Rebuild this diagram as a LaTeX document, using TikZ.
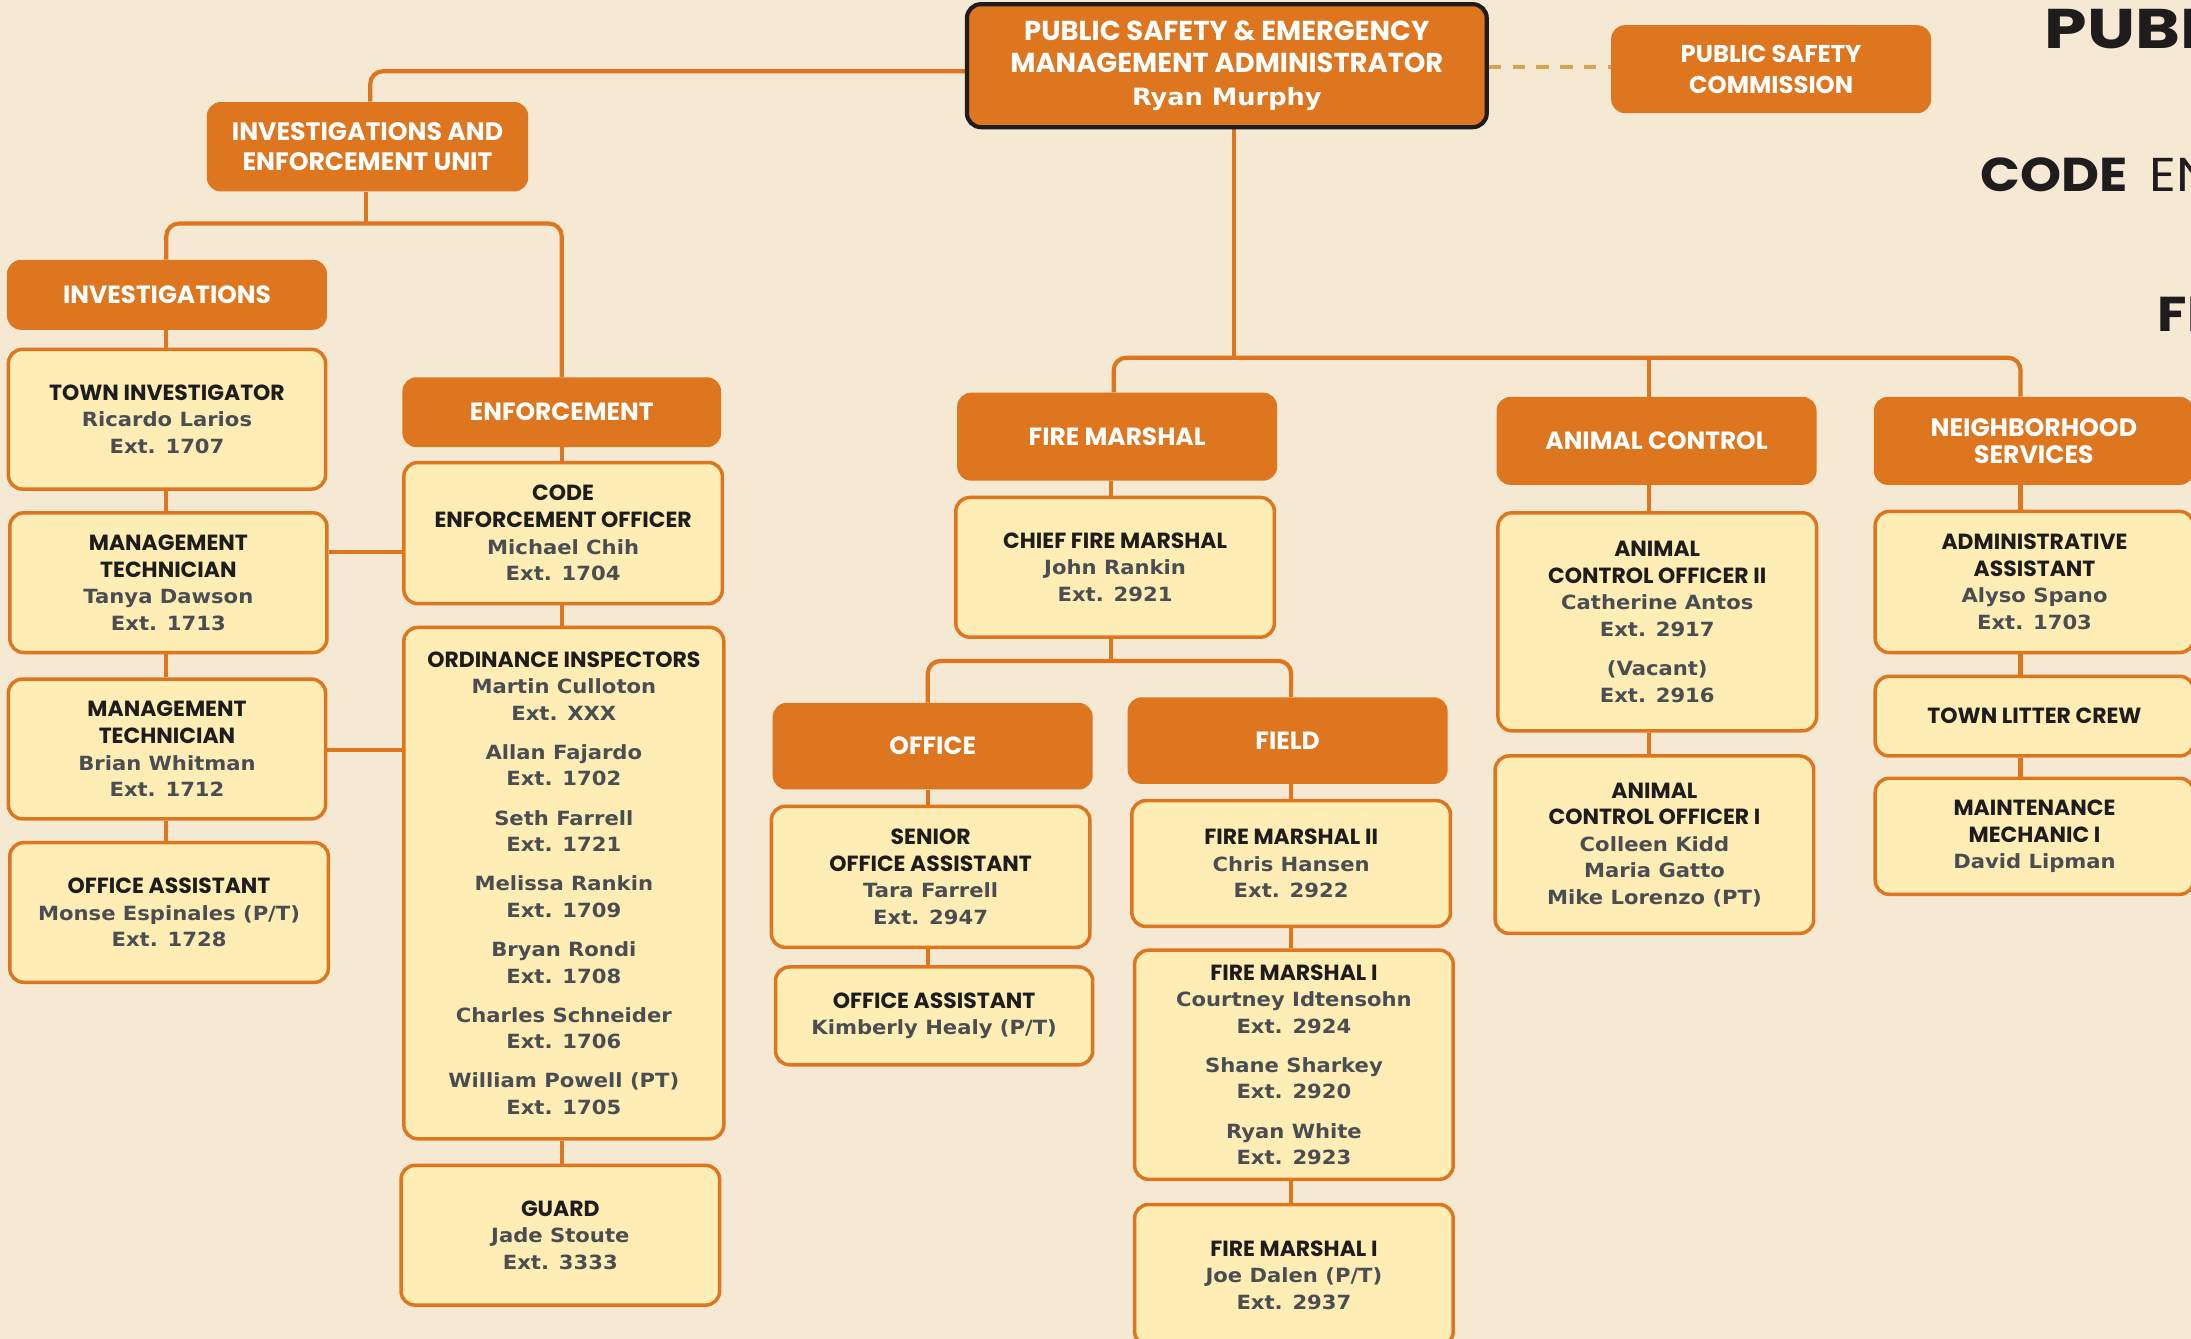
\documentclass[tikz,border=0pt]{standalone}
\usepackage{fontspec}
\usetikzlibrary{calc}
\newfontfamily\tfam{Poppins}
\newfontfamily\wfam{Poppins}[FakeStretch=1.1]
\newfontfamily\pfam{Poppins}[FakeStretch=1.22]
\newfontfamily\nfam{DejaVu Sans}[FakeStretch=1.08]
\definecolor{bgc}{HTML}{F5E9D3}
\definecolor{org}{HTML}{DE7620}
\definecolor{yel}{HTML}{FEEDB5}
\definecolor{ink}{HTML}{1E1C1C}
\definecolor{gry}{HTML}{4A4D52}
\definecolor{dash}{HTML}{D6A552}
\newcommand\rtitle{\tfam\bfseries\fontsize{15.7}{19}\selectfont\color{ink}}
\newcommand\rname{\nfam\bfseries\fontsize{14}{19}\selectfont\color{gry}}
\pgfdeclarelayer{back}
\pgfdeclarelayer{links}
\pgfsetlayers{back,links,main}
\tikzset{
  box/.style={rectangle, rounded corners=10pt, inner sep=0pt, align=center},
  hdr/.style={box, fill=org, text=white, font=\tfam\bfseries\fontsize{17.8}{20}\selectfont},
  staff/.style={box, fill=yel, draw=org, line width=2.5pt, font=\fontsize{14}{19}\selectfont},
  conn/.style={draw=org, line width=3pt},
}
\begin{document}
\begin{tikzpicture}[x=1pt,y=-1pt]
\begin{pgfonlayer}{back}
\fill[bgc] (0,0) rectangle (1568,958);
\end{pgfonlayer}
\useasboundingbox (0,0) rectangle (1568,958);

% titles at right
\node[anchor=base west, inner sep=0, text=ink, font=\pfam\bfseries\fontsize{40}{40}\selectfont] (t1) at (1463,35) {PUBL};
\node[anchor=base west, inner sep=0, text=ink, font=\wfam\fontsize{34}{34}\selectfont] (t2) at (1417,137) {\bfseries CODE\hspace{16pt}\mdseries EN};
\node[anchor=base west, inner sep=0, text=ink, font=\wfam\bfseries\fontsize{35}{35}\selectfont] (t3) at (1544,237.5) {FI};

% top
\node[hdr, draw=ink, line width=3pt, minimum width=372pt, minimum height=88pt, font=\tfam\bfseries\fontsize{19.6}{23}\selectfont] (admin) at (878,47) {PUBLIC SAFETY \& EMERGENCY\\MANAGEMENT ADMINISTRATOR\\{\nfam\bfseries\fontsize{17}{23}\selectfont Ryan Murphy}};
\node[hdr, minimum width=229pt, minimum height=63pt, font=\tfam\bfseries\fontsize{17.4}{22}\selectfont] (psc) at (1267.5,49.5) {PUBLIC SAFETY\\COMMISSION};

% left unit
\node[hdr, minimum width=230pt, minimum height=64pt, font=\tfam\bfseries\fontsize{18}{21}\selectfont] (ieu) at (263,105) {INVESTIGATIONS AND\\ENFORCEMENT UNIT};
\node[hdr, minimum width=229pt, minimum height=50pt] (inv) at (119.5,211) {INVESTIGATIONS};
\node[staff, minimum width=227pt, minimum height=100pt] (ti) at (119.5,300) {{\rtitle TOWN INVESTIGATOR}\\{\rname Ricardo Larios}\\{\rname Ext. 1707}};
\node[staff, minimum width=227pt, minimum height=100pt] (mt1) at (120.5,417) {{\rtitle MANAGEMENT}\\{\rtitle TECHNICIAN}\\{\rname Tanya Dawson}\\{\rname Ext. 1713}};
\node[staff, minimum width=227pt, minimum height=100pt] (mt2) at (119.5,536) {{\rtitle MANAGEMENT}\\{\rtitle TECHNICIAN}\\{\rname Brian Whitman}\\{\rname Ext. 1712}};
\node[staff, minimum width=228pt, minimum height=100pt] (oa1) at (121,653) {{\rtitle OFFICE ASSISTANT}\\{\rname Monse Espinales (P/T)}\\{\rname Ext. 1728}};

\node[hdr, minimum width=228pt, minimum height=50pt] (enf) at (402,295) {ENFORCEMENT};
\node[staff, minimum width=228pt, minimum height=101pt] (ceo) at (403,381.5) {{\rtitle CODE}\\{\rtitle ENFORCEMENT OFFICER}\\{\rname Michael Chih}\\{\rname Ext. 1704}};
\node[staff, minimum width=229pt, minimum height=366pt] (oi) at (403.5,632) {{\rtitle ORDINANCE INSPECTORS}\\{\rname Martin Culloton}\\{\rname Ext. XXX}\\[9pt]{\rname Allan Fajardo}\\{\rname Ext. 1702}\\[9pt]{\rname Seth Farrell}\\{\rname Ext. 1721}\\[9pt]{\rname Melissa Rankin}\\{\rname Ext. 1709}\\[9pt]{\rname Bryan Rondi}\\{\rname Ext. 1708}\\[9pt]{\rname Charles Schneider}\\{\rname Ext. 1706}\\[9pt]{\rname William Powell (PT)}\\{\rname Ext. 1705}};
\node[staff, minimum width=228pt, minimum height=100pt] (guard) at (401,884) {{\rtitle GUARD}\\{\rname Jade Stoute}\\{\rname Ext. 3333}};

% fire marshal
\node[hdr, minimum width=229pt, minimum height=63pt] (fm) at (799.5,312.5) {FIRE MARSHAL};
\node[staff, minimum width=228pt, minimum height=100pt] (cfm) at (798,406) {{\rtitle CHIEF FIRE MARSHAL}\\{\rname John Rankin}\\{\rname Ext. 2921}};
\node[hdr, minimum width=229pt, minimum height=62pt] (off) at (667.5,534) {OFFICE};
\node[staff, minimum width=228pt, minimum height=101pt] (soa) at (666,627.5) {{\rtitle SENIOR}\\{\rtitle OFFICE ASSISTANT}\\{\rname Tara Farrell}\\{\rname Ext. 2947}};
\node[staff, minimum width=227pt, minimum height=70pt] (oa2) at (668.5,727) {{\rtitle OFFICE ASSISTANT}\\{\rname Kimberly Healy (P/T)}};
\node[hdr, minimum width=229pt, minimum height=62pt] (field) at (921.5,530) {FIELD};
\node[staff, minimum width=228pt, minimum height=90pt] (fm2) at (924,618) {{\rtitle FIRE MARSHAL II}\\{\rname Chris Hansen}\\{\rname Ext. 2922}};
\node[staff, minimum width=228pt, minimum height=164pt] (fm1a) at (926,762) {{\rtitle FIRE MARSHAL I}\\{\rname Courtney Idtensohn}\\{\rname Ext. 2924}\\[9pt]{\rname Shane Sharkey}\\{\rname Ext. 2920}\\[9pt]{\rname Ryan White}\\{\rname Ext. 2923}};
\node[staff, minimum width=228pt, minimum height=101pt] (fm1b) at (926,912.5) {{\rtitle FIRE MARSHAL I}\\{\rname Joe Dalen (P/T)}\\{\rname Ext. 2937}};

% animal control
\node[hdr, minimum width=229pt, minimum height=63pt] (ac) at (1185.5,315.5) {ANIMAL CONTROL};
\node[staff, minimum width=228pt, minimum height=156pt] (aco2) at (1186,445) {{\rtitle ANIMAL}\\{\rtitle CONTROL OFFICER II}\\{\rname Catherine Antos}\\{\rname Ext. 2917}\\[9pt]{\rname (Vacant)}\\{\rname Ext. 2916}};
\node[staff, minimum width=228pt, minimum height=127pt] (aco1) at (1184,604.5) {{\rtitle ANIMAL}\\{\rtitle CONTROL OFFICER I}\\{\rname Colleen Kidd}\\{\rname Maria Gatto}\\{\rname Mike Lorenzo (PT)}};

% neighborhood
\node[hdr, minimum width=229pt, minimum height=63pt, font=\tfam\bfseries\fontsize{18}{19.5}\selectfont] (ns) at (1455.5,315.5) {NEIGHBORHOOD\\SERVICES};
\node[staff, minimum width=228pt, minimum height=101pt] (aa) at (1456,416.5) {{\rtitle ADMINISTRATIVE}\\{\rtitle ASSISTANT}\\{\rname Alyso Spano}\\{\rname Ext. 1703}};
\node[staff, minimum width=228pt, minimum height=57pt] (tlc) at (1456,512.5) {{\rtitle TOWN LITTER CREW}};
\node[staff, minimum width=228pt, minimum height=83pt] (mm) at (1456,598.5) {{\rtitle MAINTENANCE}\\{\rtitle MECHANIC I}\\{\rname David Lipman}};

% connectors
\coordinate (yA) at (0,51);
\coordinate (xA) at (265,0);
\coordinate (yB) at (0,160);
\coordinate (xInv) at (119,0);
\coordinate (xEnf) at (402,0);
\coordinate (yH1) at (0,395);
\coordinate (yH2) at (0,537);
\coordinate (xT) at (883,0);
\coordinate (yT) at (0,256);
\coordinate (xFM) at (797,0);
\coordinate (xFMc) at (795,0);
\coordinate (xAC) at (1180,0);
\coordinate (xNS) at (1446,0);
\coordinate (yF) at (0,473);
\coordinate (xOff) at (664,0);
\coordinate (xFld) at (924,0);
\begin{pgfonlayer}{links}
\draw[conn, rounded corners=9pt] (admin.west |- yA) -| (ieu.north -| xA);
\draw[conn] (ieu.south -| 262,0) -- (262,160);
\draw[conn, rounded corners=9pt] (inv.north -| xInv) |- (yB -| xA) -| (enf.north -| xEnf);
\foreach \a/\b in {inv/ti, ti/mt1, mt1/mt2, mt2/oa1}
  \draw[conn] (\a.south -| xInv) -- (\b.north -| xInv);
\foreach \a/\b in {enf/ceo, ceo/oi, oi/guard}
  \draw[conn] (\a.south -| xEnf) -- (\b.north -| xEnf);
\draw[conn] (mt1.east |- yH1) -- (ceo.west |- yH1);
\draw[conn] (mt2.east |- yH2) -- (oi.west |- yH2);
\draw[conn] (admin.south -| xT) -- (yT -| xT);
\draw[conn, rounded corners=9pt] (fm.north -| xFM) |- (yT -| xT) -| (ns.north -| xNS);
\draw[conn] (yT -| xAC) -- (ac.north -| xAC);
\foreach \a/\b in {ac/aco2, aco2/aco1}
  \draw[conn] (\a.south -| xAC) -- (\b.north -| xAC);
\foreach \a/\b in {ns/aa, aa/tlc, tlc/mm}
  \draw[conn] (\a.south -| xNS) -- (\b.north -| xNS);
\draw[conn] (fm.south -| xFMc) -- (cfm.north -| xFMc);
\draw[conn] (cfm.south -| xFMc) -- (yF -| xFMc);
\draw[conn, rounded corners=9pt] (off.north -| xOff) |- (yF -| xFMc) -| (field.north -| xFld);
\foreach \a/\b in {off/soa, soa/oa2}
  \draw[conn] (\a.south -| xOff) -- (\b.north -| xOff);
\foreach \a/\b in {field/fm2, fm2/fm1a, fm1a/fm1b}
  \draw[conn] (\a.south -| xFld) -- (\b.north -| xFld);
\draw[draw=dash, line width=3pt, dash pattern=on 9pt off 8pt] (admin.east |- 0,48) -- (psc.west |- 0,48);
\end{pgfonlayer}
\end{tikzpicture}
\end{document}
